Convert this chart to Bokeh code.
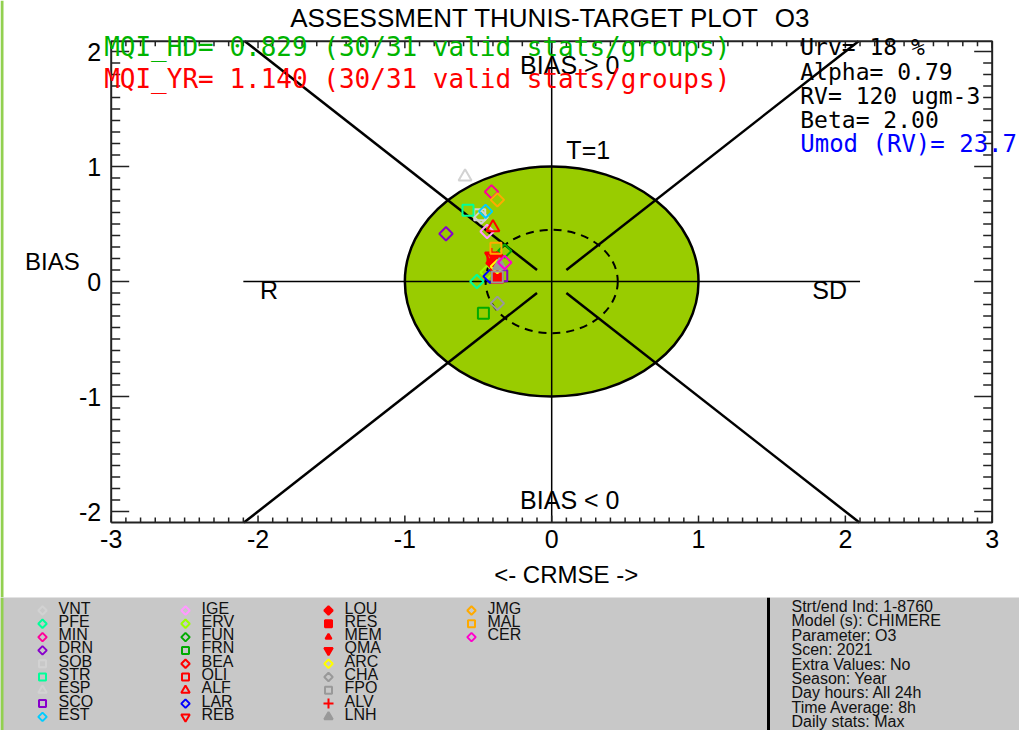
import numpy as np
from bokeh.plotting import figure
from bokeh.models import Range1d, ColumnDataSource
from bokeh.embed import file_html
from bokeh.resources import INLINE
from bokeh.core.properties import value

# ---------------- data ----------------
stations = ["VNT", "PFE", "MIN", "DRN", "SOB", "STR", "ESP", "SCO", "EST",
            "IGE", "ERV", "FUN", "FRN", "BEA", "OLI", "ALF", "LAR", "REB",
            "LOU", "RES", "MEM", "QMA", "ARC", "CHA", "FPO", "ALV", "LNH",
            "JMG", "MAL", "CER"]
crmse = [-0.48, -0.51, -0.41, -0.72, -0.49, -0.57, -0.59, -0.34, -0.45,
         -0.44, -0.44, -0.32, -0.465, -0.39, -0.40, -0.40, -0.42, -0.41,
         -0.40, -0.37, -0.39, -0.38, -0.37, -0.37, -0.37, -0.41, -0.355,
         -0.37, -0.38, -0.32]
bias = [0.56, 0.00, 0.78, 0.415, 0.58, 0.62, 0.91, 0.05, 0.61,
        0.435, 0.08, 0.265, -0.275, 0.17, 0.20, 0.47, 0.045, 0.22,
        0.16, 0.035, 0.12, 0.20, 0.13, -0.19, 0.04, 0.24, 0.14,
        0.71, 0.29, 0.165]
colors = ["#d2d2d2", "#00ff99", "#ff0099", "#8800cc", "#d2d2d2", "#00ff99", "#d2d2d2", "#8800cc", "#00ccff",
          "#ff99ff", "#99ff00", "#00aa00", "#00aa00", "#ff0000", "#ff0000", "#ff0000", "#0000ff", "#ff0000",
          "#ff0000", "#ff0000", "#ff0000", "#ff0000", "#ffff00", "#999999", "#999999", "#ff0000", "#999999",
          "#ffaa00", "#ffaa00", "#ff00cc"]
shapes = ["D", "D", "D", "D", "s", "s", "^", "s", "D",
          "D", "D", "D", "s", "D", "s", "^", "D", "v",
          "D", "s", "t", "v", "D", "D", "s", "+", "^",
          "D", "s", "D"]
filled = [0, 0, 0, 0, 0, 0, 0, 0, 0,
          0, 0, 0, 0, 0, 0, 0, 0, 0,
          1, 1, 1, 1, 0, 0, 0, 0, 1,
          0, 0, 0]

x_ticks = [-3, -2, -1, 0, 1, 2, 3]
y_ticks = [-2, -1, 0, 1, 2]
x_tick_labels = ["-3", "-2", "-1", "0", "1", "2", "3"]
y_tick_labels = ["-2", "-1", "0", "1", "2"]

title_text = "ASSESSMENT THUNIS-TARGET PLOT"
param_text = "O3"
mqi_hd = "MQI_HD= 0.829 (30/31 valid stats/groups)"
mqi_yr = "MQI_YR= 1.140 (30/31 valid stats/groups)"
right_texts = ["Urv= 18 %", "Alpha= 0.79", "RV= 120 ugm-3", "Beta= 2.00"]
umod_text = "Umod (RV)= 23.7"
info_lines = ["Strt/end Ind: 1-8760", "Model (s): CHIMERE", "Parameter: O3", "Scen: 2021",
              "Extra Values: No", "Season: Year", "Day hours: All 24h",
              "Time Average: 8h", "Daily stats: Max"]

# ---------------- layout constants ----------------
FONT = "Liberation Sans"
MONO = "DejaVu Sans Mono"
W, H_TOP, H_LEG = 1019, 597, 133
PX_X, PX_Y = 146.83, 115.0          # pixels per data unit
XB = (-3.0, 3.0)                    # plot box in data units
YB = (-2.096, 2.09)
X0 = XB[0] - 110.7 / PX_X
Y1 = 281.0 / PX_Y
XR = (X0, X0 + W / PX_X)
YR = (Y1 - H_TOP / PX_Y, Y1)
AX_COL = "#222222"
EDGE_GREEN = "#92d050"

shape_map = {"D": ("square", np.pi / 4, 9.5), "s": ("square", 0.0, 11),
             "^": ("triangle", 0.0, 13), "v": ("inverted_triangle", 0.0, 13),
             "t": ("triangle", 0.0, 8), "+": ("cross", 0.0, 12)}
leg_map = {"D": ("square", np.pi / 4, 6), "s": ("square", 0.0, 7),
           "^": ("triangle", 0.0, 8.5), "v": ("inverted_triangle", 0.0, 8.5),
           "t": ("triangle", 0.0, 6), "+": ("cross", 0.0, 10)}

# ---------------- main target plot ----------------
p = figure(width=W, height=H_TOP, x_range=Range1d(*XR), y_range=Range1d(*YR),
           min_border=0, x_axis_type=None, y_axis_type=None,
           output_backend="svg", toolbar_location=None)
p.outline_line_color = None
p.background_fill_color = "white"
p.border_fill_color = "white"
p.grid.visible = False

# left green page edge
p.quad(left=[XR[0]], right=[XR[0] + 3 / PX_X], bottom=[YR[0]], top=[YR[1]],
       fill_color=EDGE_GREEN, line_color=None)

# target disc and dashed circle
p.ellipse(x=[0], y=[0], width=[2], height=[2], fill_color="#99cc00",
          line_color="black", line_width=2.5)
p.ellipse(x=[0], y=[0], width=[0.9], height=[0.9], fill_color=None,
          line_color="black", line_width=2, line_dash="8 6")

# axis cross and diagonals
HL = 2.1
p.line(x=[-HL, HL], y=[0, 0], line_color="black", line_width=1.5)
p.line(x=[0, 0], y=[YB[0], YB[1]], line_color="black", line_width=1.5)
r0 = 0.1
sx = [1, 1, -1, -1]
sy = [1, -1, 1, -1]
ends = [min(abs(XB[0 if a < 0 else 1]), abs(YB[0 if b < 0 else 1])) for a, b in zip(sx, sy)]
p.segment(x0=[s * r0 for s in sx], y0=[s * r0 for s in sy],
          x1=[s * e for s, e in zip(sx, ends)], y1=[s * e for s, e in zip(sy, ends)],
          line_color="black", line_width=2.5)

# box axes with inward ticks
x_minor = [t for t in np.round(np.arange(-3, 3.001, 0.1), 2) if t not in x_ticks]
y_minor = [t for t in np.round(np.arange(-2.0, 2.001, 0.1), 2) if t not in y_ticks]
p.line(x=[XB[0], XB[1], XB[1], XB[0], XB[0]], y=[YB[0], YB[0], YB[1], YB[1], YB[0]],
       line_color=AX_COL, line_width=2)
for yb, sgn in ((YB[0], 1), (YB[1], -1)):
    p.segment(x0=x_minor, y0=[yb] * len(x_minor), x1=x_minor,
              y1=[yb + sgn * 5 / PX_Y] * len(x_minor), line_color=AX_COL, line_width=1.5)
    p.segment(x0=x_ticks, y0=[yb] * len(x_ticks), x1=x_ticks,
              y1=[yb + sgn * 7 / PX_Y] * len(x_ticks), line_color=AX_COL, line_width=1.5)
for xb, sgn in ((XB[0], 1), (XB[1], -1)):
    p.segment(x0=[xb] * len(y_minor), y0=y_minor, x1=[xb + sgn * 9 / PX_X] * len(y_minor),
              y1=y_minor, line_color=AX_COL, line_width=1.5)
    p.segment(x0=[xb] * len(y_ticks), y0=y_ticks, x1=[xb + sgn * 18 / PX_X] * len(y_ticks),
              y1=y_ticks, line_color=AX_COL, line_width=1.5)

p.text(x=x_ticks, y=[YB[0] - 7 / PX_Y] * len(x_ticks), text=x_tick_labels,
       text_font=value(FONT), text_font_size=value("25px"), text_color="black",
       text_align="center", text_baseline="top")
p.text(x=[XB[0] - 10 / PX_X] * len(y_ticks), y=y_ticks, text=y_tick_labels,
       text_font=value(FONT), text_font_size=value("25px"), text_color="black",
       text_align="right", text_baseline="middle")

# station markers
src = ColumnDataSource(dict(
    x=crmse, y=bias, color=colors,
    marker=[shape_map[s][0] for s in shapes],
    angle=[shape_map[s][1] for s in shapes],
    size=[shape_map[s][2] for s in shapes],
    falpha=[float(f) for f in filled]))
p.scatter(x="x", y="y", marker="marker", angle="angle", size="size", source=src,
          line_color="color", fill_color="color", fill_alpha="falpha", line_width=2)

# texts
def lab(x, y, text, size="25px", font=FONT, color="black"):
    p.text(x=[x], y=[y], text=[text], text_font=value(font), text_font_size=value(size),
           text_color=color, text_align="left", text_baseline="middle")

lab(0.10, 1.14, "T=1")
lab(-0.215, 1.88, "BIAS > 0")
lab(-0.215, -1.896, "BIAS < 0")
lab(-1.986, -0.07, "R")
lab(1.775, -0.07, "SD")
lab(-1.781, 2.287, title_text, "26px")
lab(1.52, 2.287, param_text, "26px")
lab(-3.587, 0.174, "BIAS", "24px")
lab(-0.392, -2.548, "<- CRMSE ->", "24px")
lab(-3.048, 2.035, mqi_hd, "26px", MONO, "#00b400")
lab(-3.048, 1.765, mqi_yr, "26px", MONO, "#ff0000")
for k, t in enumerate(right_texts):
    lab(1.693, 2.035 - k * 0.209, t, "23px", MONO, "black")
lab(1.693, 2.035 - 4 * 0.209, umod_text, "24px", MONO, "#0000ff")

# ---------------- legend / info panel ----------------
q = figure(width=W, height=H_LEG, x_range=Range1d(0, W), y_range=Range1d(H_LEG, 0),
           min_border=0, x_axis_type=None, y_axis_type=None,
           output_backend="svg", toolbar_location=None)
q.outline_line_color = None
q.background_fill_color = "#c8c8c8"
q.border_fill_color = "#c8c8c8"
q.quad(left=[0], right=[3], bottom=[H_LEG], top=[0], fill_color=EDGE_GREEN, line_color=None)

cols = [i // 9 for i in range(len(stations))]
rows = [i % 9 for i in range(len(stations))]
mx = [42 + c * 143 for c in cols]
my = [13 + r * 13.3 for r in rows]
lsrc = ColumnDataSource(dict(
    x=mx, y=my, tx=[v + 16 for v in mx], ty=[v - 2.5 for v in my],
    text=stations, color=colors,
    marker=[leg_map[s][0] for s in shapes],
    angle=[-leg_map[s][1] for s in shapes],
    size=[leg_map[s][2] for s in shapes],
    falpha=[float(f) for f in filled]))
q.scatter(x="x", y="y", marker="marker", angle="angle", size="size", source=lsrc,
          line_color="color", fill_color="color", fill_alpha="falpha", line_width=2)
q.text(x="tx", y="ty", text="text", source=lsrc, text_font=value(FONT),
       text_font_size=value("16px"), text_color="#111111", text_baseline="middle")

q.line(x=[768, 768], y=[0, H_LEG], line_color="black", line_width=3)
isrc = ColumnDataSource(dict(x=[791] * len(info_lines),
                             y=[9 + k * 14.4 for k in range(len(info_lines))],
                             text=info_lines))
q.text(x="x", y="y", text="text", source=isrc, text_font=value(FONT),
       text_font_size=value("16px"), text_color="#111111", text_baseline="middle")

html = file_html([p, q], INLINE)
open("out.html", "w").write(html)
